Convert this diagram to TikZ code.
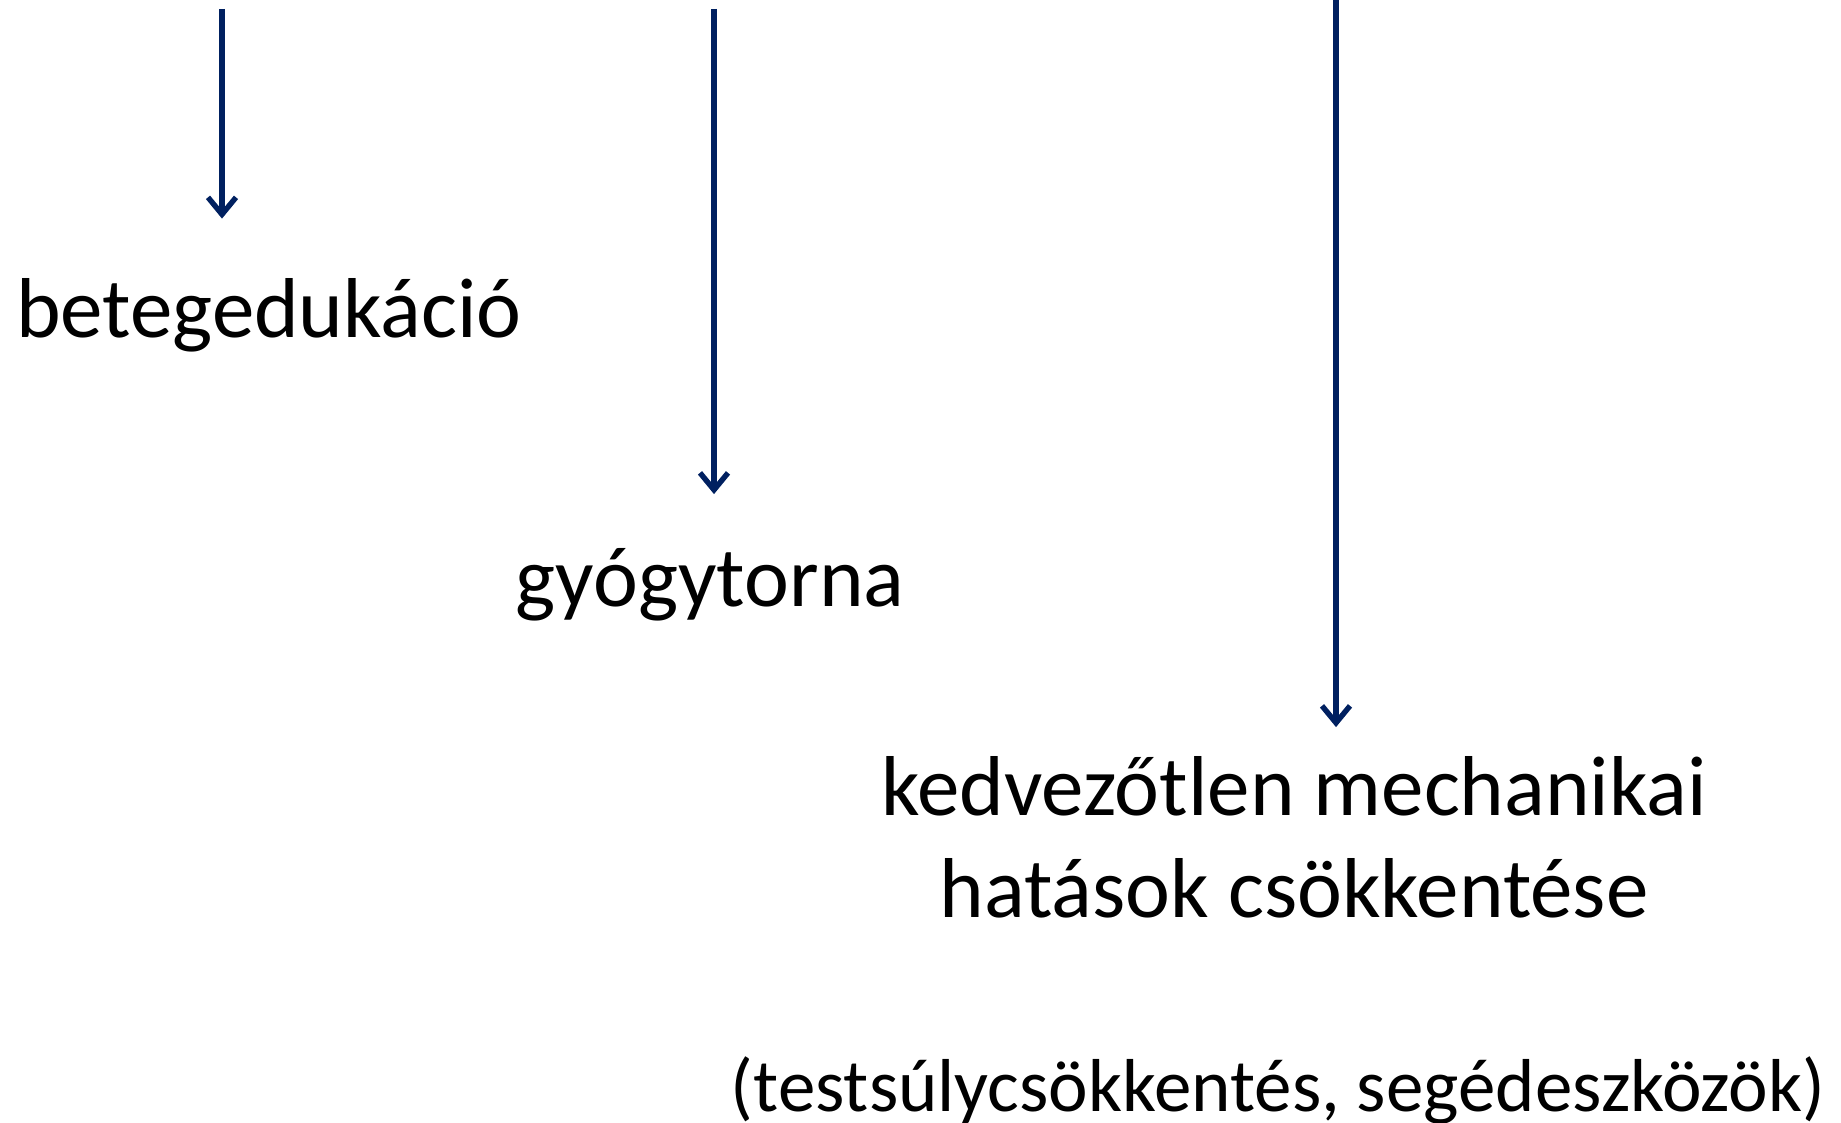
\documentclass[tikz,border=0pt]{standalone}
\usepackage{fontspec}
\setmainfont{Carlito}
\usetikzlibrary{arrows.meta}
\definecolor{navy}{HTML}{002060}
\tikzset{
  arr/.style={draw=navy, line width=2.7pt, -{Straight Barb[length=8.5pt,width=14pt,line width=2.7pt]}},
  big/.style={inner sep=0pt, anchor=base, font=\fontsize{42.5}{46}\selectfont, text height=35pt, text depth=12pt},
  small/.style={inner sep=0pt, anchor=base, font=\fontsize{37.5}{41}\selectfont}
}
\begin{document}
\begin{tikzpicture}[x=0.5pt,y=-0.5pt]
\useasboundingbox (0,0) rectangle (1841,1123);
\node[big] (t1) at (269,337) {betegedukáció};
\node[big] (t2) at (710,606) {gyógytorna};
\node[big] (t3) at (1294,815) {kedvezőtlen mechanikai};
\node[big] (t4) at (1294,917) {hatások csökkentése};
\node[small] (t5) at (1278,1111) {(testsúlycsökkentés, segédeszközök)};
\coordinate (s1) at (222,9);
\coordinate (s2) at (714,9);
\coordinate (s3) at (1336,-10);
\draw[arr, shorten >=24pt] (s1) -- (s1 |- t1.north);
\draw[arr, shorten >=20.75pt] (s2) -- (s2 |- t2.north);
\draw[arr, shorten >=8.75pt] (s3) -- (s3 |- t3.north);
\end{tikzpicture}
\end{document}
